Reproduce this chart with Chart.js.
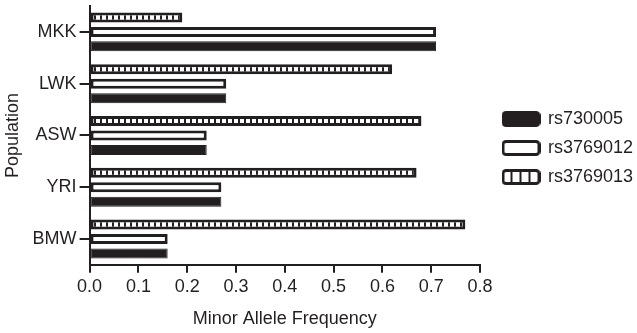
<!DOCTYPE html>
<html>
<head>
<meta charset="utf-8">
<script src="https://cdn.jsdelivr.net/npm/chart.js@4.4.1/dist/chart.umd.min.js"></script>
<style>
  html, body { margin: 0; padding: 0; background: #fff; }
</style>
</head>
<body>
<canvas id="mafChart" width="637" height="333"></canvas>
<script>
var populations = ['MKK', 'LWK', 'ASW', 'YRI', 'BMW'];
var rs730005 = [0.71, 0.28, 0.24, 0.27, 0.16];
var rs3769012 = [0.71, 0.28, 0.24, 0.27, 0.16];
var rs3769013 = [0.19, 0.62, 0.68, 0.67, 0.77];
var xTickLabels = ['0.0', '0.1', '0.2', '0.3', '0.4', '0.5', '0.6', '0.7', '0.8'];

var ink = '#231f20';
var font = 'Liberation Sans, Arial, sans-serif';

// fill for the striped bars: white cells split by black lines
function makeStripes() {
    var c = document.createElement('canvas');
    c.width = 6; c.height = 4;
    var g = c.getContext('2d');
    g.fillStyle = ink;
    g.fillRect(0, 0, 6, 4);
    g.fillStyle = '#fff';
    g.fillRect(0, 0, 4, 4);
    return g.createPattern(c, 'repeat');
}

// legend icons
function makeIcon(kind) {
    var c = document.createElement('canvas');
    c.width = 39; c.height = 16;
    var g = c.getContext('2d');
    g.lineWidth = 3;
    g.strokeStyle = ink;
    g.beginPath();
    g.roundRect(1.5, 1.5, 36, 13, 3);
    g.fillStyle = kind === 'black' ? ink : '#fff';
    g.fill();
    g.stroke();
    if (kind === 'stripe') {
        g.lineWidth = 2;
        [10, 19, 28].forEach(function(x) {
            g.beginPath();
            g.moveTo(x, 2); g.lineTo(x, 14);
            g.stroke();
        });
    }
    return c;
}

var icons = { rs730005: makeIcon('black'), rs3769012: makeIcon('white'), rs3769013: makeIcon('stripe') };

// legend keeps a fixed width so the plot ends at 0.8 where the reference does
var legendPlace = {
    id: 'legendPlace',
    beforeInit: function(chart) {
        var legend = chart.legend;
        var fit = legend.fit;
        legend.fit = function() { fit.call(legend); legend.width = 157; };
    },
    afterLayout: function(chart) {
        var legend = chart.legend;
        legend.left += 12; legend.right += 12;
        legend.top -= 20; legend.bottom -= 20;
    }
};

var ctx = document.getElementById('mafChart').getContext('2d');
var mafChart = new Chart(ctx, {
    type: 'bar',
    data: {
        labels: populations,
        datasets: [{
            label: 'rs3769013',
            data: rs3769013,
            backgroundColor: makeStripes(),
            borderColor: ink,
            borderWidth: 3
        }, {
            label: 'rs3769012',
            data: rs3769012,
            backgroundColor: '#fff',
            borderColor: ink,
            borderWidth: 3
        }, {
            label: 'rs730005',
            data: rs730005,
            backgroundColor: ink,
            borderColor: ink,
            borderWidth: 1
        }]
    },
    options: {
        indexAxis: 'y',
        responsive: false,
        animation: false,
        borderSkipped: false,
        categoryPercentage: 0.84,
        barPercentage: 0.69,
        layout: { padding: { top: 6, left: 2, bottom: 3, right: 0 } },
        plugins: {
            tooltip: { enabled: false },
            legend: {
                position: 'right',
                labels: {
                    usePointStyle: true,
                    pointStyleWidth: 36,
                    padding: 11,
                    color: ink,
                    textAlign: 'left',
                    font: { family: font, size: 18 },
                    generateLabels: function(chart) {
                        return ['rs730005', 'rs3769012', 'rs3769013'].map(function(name) {
                            var i = chart.data.datasets.findIndex(function(d) { return d.label === name; });
                            return { text: name, pointStyle: icons[name], datasetIndex: i, hidden: false, lineWidth: 0, fontColor: ink };
                        });
                    }
                }
            }
        },
        scales: {
            x: {
                min: 0,
                max: 0.8,
                ticks: {
                    stepSize: 0.1,
                    color: ink,
                    padding: 3,
                    font: { family: font, size: 18 },
                    callback: function(v, i) { return xTickLabels[i]; }
                },
                grid: { drawOnChartArea: false, color: ink, lineWidth: 2, tickLength: 8 },
                border: { color: ink, width: 2 },
                title: { display: true, text: 'Minor Allele Frequency', color: ink, padding: { top: 8, bottom: 0 }, font: { family: font, size: 18 } }
            },
            y: {
                afterFit: function(scale) { scale.paddingTop = 0; scale.paddingBottom = 0; },
                ticks: { color: ink, padding: 3, font: { family: font, size: 18 } },
                grid: { drawOnChartArea: false, offset: false, color: ink, lineWidth: 2, tickLength: 10 },
                border: { color: ink, width: 2 },
                title: { display: true, text: 'Population', color: ink, padding: { top: 0, bottom: 6 }, font: { family: font, size: 18 } }
            }
        }
    },
    plugins: [legendPlace]
});
</script>
</body>
</html>
